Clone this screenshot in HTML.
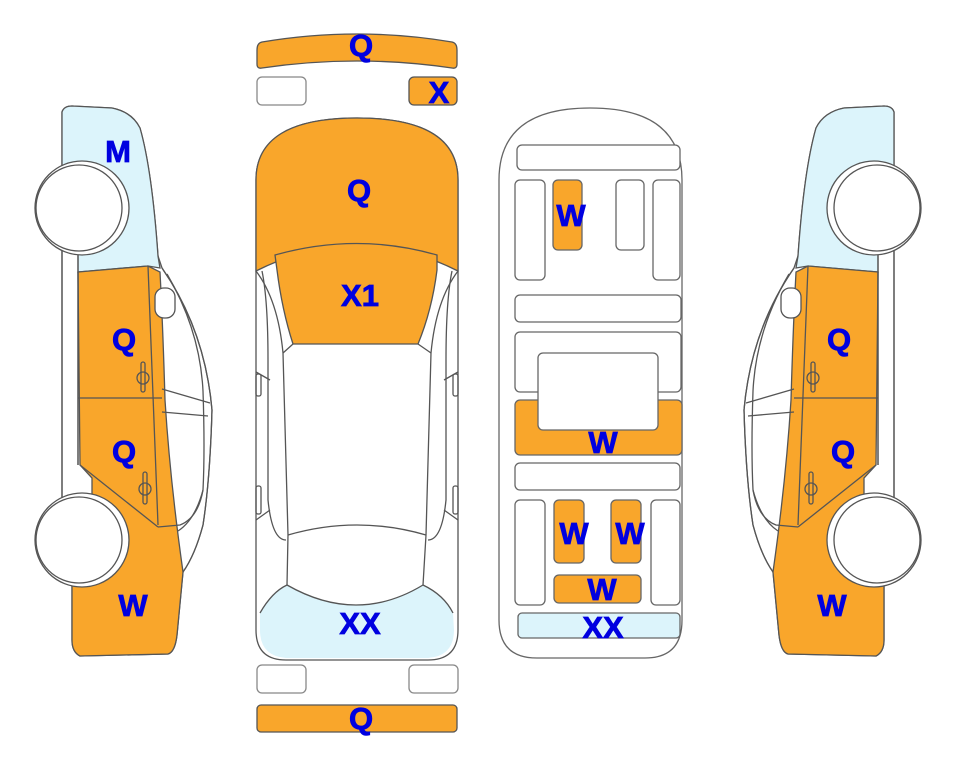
<!DOCTYPE html>
<html><head><meta charset="utf-8"><style>
html,body{margin:0;padding:0;background:#fff;}
svg{display:block;}
text{font-family:"Liberation Sans",Arial,sans-serif;font-weight:bold;font-size:31px;fill:#0000e0;text-anchor:middle;stroke:#0000e0;stroke-width:0.8;}
</style></head><body>
<svg width="963" height="768" viewBox="0 0 963 768" xmlns="http://www.w3.org/2000/svg">
<defs>
<g id="side" stroke="#555" stroke-width="1.3" fill="none">
  <path d="M62,112 Q64,106 72,106 L112,108 Q132,112 140,128 Q152,170 158,256 L162,268 Q205,330 212,410 Q210,480 203,525 Q195,555 183,572 L177,635 Q175,652 168,654 L80,656 Q72,652 72,640 L72,575 L62,560 L62,112 Z" fill="#fff"/>
  <path d="M62,112 Q64,106 72,106 L112,108 Q132,112 140,128 Q152,170 158,256 L160,268 L148,266 L78,272 L78,250 L62,250 Z" fill="#dcf4fb"/>
  <path d="M78,272 L148,266 L160,272 Q163,330 165,400 Q170,480 183,572 L177,635 Q175,652 168,654 L80,656 Q72,652 72,640 L72,575 L92,560 L92,478 L80,465 Z" fill="#f9a62b"/>
  <path d="M162,268 Q205,330 212,410 Q210,480 203,525 Q195,555 183,572"/>
  <path d="M167,274 Q200,330 203,391 Q205,450 203,490 Q195,520 178,531"/>
  <path d="M148,266 L158,525"/>
  <path d="M78,398 L162,398"/>
  <path d="M80,465 L158,527"/>
  <path d="M78,272 L78,465"/>
  <path d="M162,389 L210,403 M162,412 L208,416"/>
  <path d="M158,527 L180,525 Q198,518 203,490"/>
  <rect x="155" y="288" width="20" height="30" rx="9" fill="#fff"/>
  <rect x="141" y="362" width="4" height="30" rx="2"/>
  <circle cx="143" cy="378" r="6"/>
  <rect x="143" y="472" width="4" height="32" rx="2"/>
  <circle cx="145" cy="489" r="6"/>
  <path d="M62,250 L62,500 M78,250 L78,465"/>
  <circle cx="82" cy="208" r="47" fill="#fff"/>
  <circle cx="79" cy="208" r="43" fill="#fff"/>
  <circle cx="82" cy="540" r="47" fill="#fff"/>
  <circle cx="79" cy="540" r="43" fill="#fff"/>
</g>
</defs>

<use href="#side"/>
<use href="#side" transform="translate(956,0) scale(-1,1)"/>

<g stroke="#555" stroke-width="1.3">
<path d="M257,50 Q257,43 262,42 Q357,26 452,42 Q457,43 457,50 L457,64 Q457,69 452,68 Q357,54 262,68 Q257,69 257,64 Z" fill="#f9a62b"/>
<rect x="257" y="77" width="49" height="28" rx="5" fill="#fff" stroke="#888"/>
<rect x="409" y="77" width="48" height="28" rx="5" fill="#f9a62b"/>
<rect x="257" y="665" width="49" height="28" rx="5" fill="#fff" stroke="#888"/>
<rect x="409" y="665" width="49" height="28" rx="5" fill="#fff" stroke="#888"/>
<rect x="257" y="705" width="200" height="27" rx="4" fill="#f9a62b"/>
</g>

<g stroke="#555" stroke-width="1.3" fill="none">
<path d="M256,180 Q256,118 357,118 Q458,118 458,180 L458,630 Q458,660 428,660 L286,660 Q256,660 256,630 Z" fill="#fff"/>
<path d="M256,180 Q256,118 357,118 Q458,118 458,180 L458,271 Q357,220 256,271 Z" fill="#f9a62b"/>
<path d="M275,255 Q357,232 437,255 L437,270 Q432,310 418,344 L293,344 Q282,310 277,270 Z" fill="#f9a62b"/>
<path d="M260,613 Q272,592 287,585 Q357,625 423,585 Q444,595 453,613 L454,630 Q454,656 428,658 L286,658 Q260,656 260,630 Z" fill="#dcf4fb" stroke="none"/>
<path d="M260,613 Q272,592 287,585 Q357,625 423,585 Q444,595 453,613"/>
<path d="M256,271 Q278,300 283,353 L288,535 L287,585"/>
<path d="M458,271 Q436,300 431,353 L426,535 L423,585"/>
<path d="M262,271 Q268,300 268,360 L268,500 Q272,540 286,540"/>
<path d="M452,271 Q446,300 446,360 L446,500 Q442,540 428,540"/>
<path d="M283,353 L293,344 M431,353 L418,344"/>
<path d="M288,535 Q357,515 426,535"/>
<path d="M256,372 L270,380 M458,372 L444,380 M256,520 L270,510 M458,520 L444,510"/>
<rect x="256" y="374" width="5" height="22" rx="2"/>
<rect x="453" y="374" width="5" height="22" rx="2"/>
<rect x="256" y="486" width="5" height="28" rx="2"/>
<rect x="453" y="486" width="5" height="28" rx="2"/>
</g>

<g stroke="#666" stroke-width="1.3">
<path d="M499,180 Q499,108 590,108 Q682,108 682,180 L682,620 Q682,658 645,658 L537,658 Q499,658 499,620 Z" fill="#fff"/>
<rect x="517" y="145" width="163" height="25" rx="5" fill="#fff"/>
<rect x="515" y="180" width="30" height="100" rx="5" fill="#fff"/>
<rect x="553" y="180" width="29" height="70" rx="5" fill="#f9a62b"/>
<rect x="616" y="180" width="28" height="70" rx="5" fill="#fff"/>
<rect x="653" y="180" width="27" height="100" rx="5" fill="#fff"/>
<rect x="515" y="295" width="166" height="27" rx="5" fill="#fff"/>
<rect x="515" y="332" width="166" height="60" rx="5" fill="#fff"/>
<rect x="515" y="400" width="167" height="55" rx="5" fill="#f9a62b"/>
<rect x="538" y="353" width="120" height="77" rx="5" fill="#fff"/>
<rect x="515" y="463" width="165" height="27" rx="5" fill="#fff"/>
<rect x="515" y="500" width="30" height="105" rx="5" fill="#fff"/>
<rect x="554" y="500" width="30" height="63" rx="5" fill="#f9a62b"/>
<rect x="611" y="500" width="30" height="63" rx="5" fill="#f9a62b"/>
<rect x="651" y="500" width="29" height="105" rx="5" fill="#fff"/>
<rect x="554" y="575" width="87" height="28" rx="5" fill="#f9a62b"/>
<rect x="518" y="613" width="162" height="25" rx="4" fill="#dcf4fb"/>
</g>

<text x="118" y="162">M</text>
<text x="124" y="350">Q</text>
<text x="124" y="462">Q</text>
<text x="133" y="616">W</text>
<text x="839" y="350">Q</text>
<text x="843" y="462">Q</text>
<text x="832" y="616">W</text>
<text x="361" y="56">Q</text>
<text x="439" y="103">X</text>
<text x="359" y="201">Q</text>
<text x="360" y="306">X1</text>
<text x="360" y="634">XX</text>
<text x="361" y="729">Q</text>
<text x="571" y="226">W</text>
<text x="603" y="453">W</text>
<text x="574" y="544">W</text>
<text x="630" y="544">W</text>
<text x="602" y="600">W</text>
<text x="603" y="638">XX</text>
</svg>
</body></html>
